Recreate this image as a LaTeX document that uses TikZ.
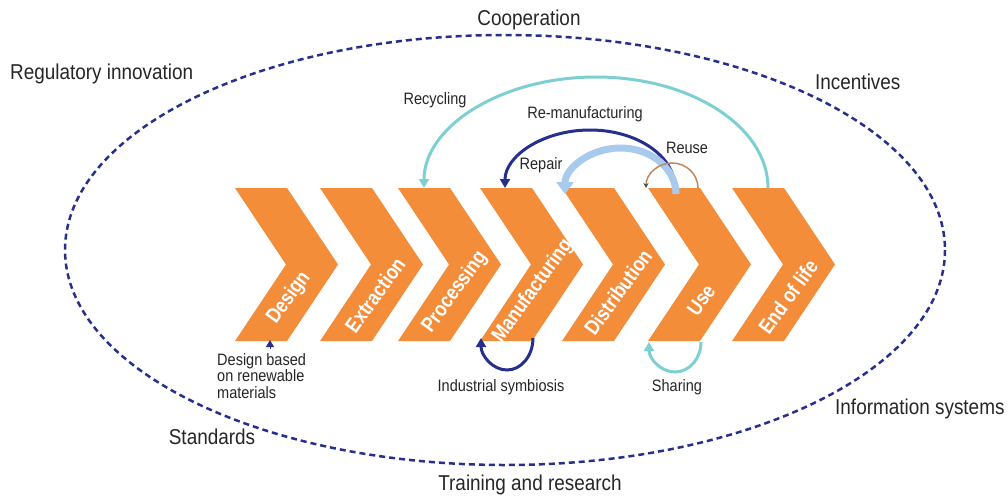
\documentclass[tikz,border=0pt]{standalone}
\usepackage{fontspec}
\setmainfont{Liberation Sans}[FakeStretch=0.88]
\newfontfamily\chevfont{Liberation Sans}[FakeStretch=0.84]
\usetikzlibrary{arrows.meta}
\definecolor{chevorange}{RGB}{244,141,58}
\definecolor{navyblue}{RGB}{38,48,140}
\definecolor{tealline}{RGB}{126,207,210}
\definecolor{lightblue}{RGB}{168,203,237}
\definecolor{brownline}{RGB}{192,135,90}
\tikzset{
  biglabel/.style={inner sep=0pt, text=black!85, font=\fontsize{21.5}{24}\selectfont},
  smalllabel/.style={inner sep=0pt, text=black!85, font=\fontsize{16.5}{19}\selectfont},
  chevlabel/.style={inner sep=0pt, text=white, rotate=54, font=\chevfont\bfseries\fontsize{21}{24}\selectfont},
}
\begin{document}
\begin{tikzpicture}[x=1pt,y=-1pt]
\useasboundingbox (0,0) rectangle (1008,496);

% outer dashed ellipse
\draw[navyblue, line width=2.5pt, dash pattern=on 6pt off 4pt] (505,250) ellipse [x radius=440, y radius=215];

% chevrons
\foreach \L/\nm in {235/design,320/extraction,398/processing,480/manufacturing,562/distribution,648/use,732/eol}{
  \coordinate (\nm) at (\L,188);
  \fill[chevorange] (\L,188) -- ++(52,0) -- ++(51,76.5) -- ++(-51,76.5) -- ++(-52,0) -- ++(51,-76.5) -- cycle;
}

% chevron labels
\node[chevlabel] (tDesign) at (289,298) {Design};
\node[chevlabel] (tExtraction) at (375,295) {Extraction};
\node[chevlabel] (tProcessing) at (455,292) {Processing};
\node[chevlabel] (tManufacturing) at (533,291) {Manufacturing};
\node[chevlabel] (tDistribution) at (618,292) {Distribution};
\node[chevlabel] (tUse) at (701,300) {Use};
\node[chevlabel] (tEol) at (788,297) {End of life};

% connector end points
\coordinate (recS) at (768,188);
\coordinate (remS) at (675,188);
\coordinate (repS) at (676,194);
\coordinate (reuS) at (698,188);
\coordinate (indS) at (533,338);
\coordinate (shaS) at (701,342);
\coordinate (desS) at (270,349);
\coordinate (desE) at (270,340);

% Recycling
\draw[tealline, line width=3pt, -{Triangle[width=10pt,length=9pt]}] (recS) arc[start angle=0, end angle=-180, x radius=172, y radius=111];
% Re-manufacturing
\draw[navyblue, line width=3pt, -{Triangle[width=10pt,length=9pt]}] (remS) arc[start angle=0, end angle=-180, x radius=85, y radius=58];
% Repair
\draw[lightblue, line width=7pt, -{Triangle[width=17pt,length=12pt]}] (repS) arc[start angle=0, end angle=-180, x radius=55.5, y radius=46];
% Reuse
\draw[brownline, line width=1.5pt, -{Stealth[width=5pt,length=5pt,color=black!70]}] (reuS) arc[start angle=0, end angle=-180, x radius=26, y radius=25];
% Industrial symbiosis
\draw[navyblue, line width=3pt, -{Triangle[width=10pt,length=9pt]}] (indS) arc[start angle=0, end angle=180, x radius=26, y radius=32];
% Sharing
\draw[tealline, line width=3pt, -{Triangle[width=10pt,length=9pt]}] (shaS) arc[start angle=0, end angle=180, x radius=26, y radius=30];
% Design based arrow tip
\draw[navyblue, line width=0.5pt, -{Triangle[width=8pt,length=7pt]}] (desS) -- (desE);

% outer labels
\node[biglabel] (lCoop) at (529,20) {Cooperation};
\node[biglabel, anchor=west] (lReg) at (10,74) {Regulatory innovation};
\node[biglabel, anchor=west] (lInc) at (815,82) {Incentives};
\node[biglabel, anchor=west] (lInfo) at (835,409) {Information systems};
\node[biglabel] (lTrain) at (530,485) {Training and research};
\node[biglabel] (lStd) at (212,437) {Standards};

% inner labels
\node[smalllabel] (lRec) at (435,100) {Recycling};
\node[smalllabel] (lRem) at (585,114) {Re-manufacturing};
\node[smalllabel] (lRep) at (541,165) {Repair};
\node[smalllabel] (lReu) at (687,148) {Reuse};
\node[smalllabel] (lInd) at (501,387) {Industrial symbiosis};
\node[smalllabel] (lSha) at (677,387) {Sharing};
\node[smalllabel, anchor=north west, align=left, font=\fontsize{16.5}{16.5}\selectfont] (lDes) at (217,353) {Design based\\on renewable\\materials};
\end{tikzpicture}
\end{document}
